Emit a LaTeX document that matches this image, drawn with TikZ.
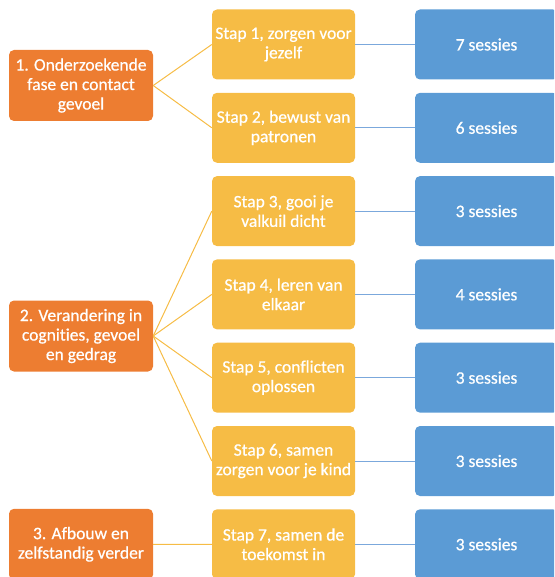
\documentclass[tikz,border=0pt]{standalone}
\usepackage{fontspec}
\setmainfont{Carlito}[Ligatures = NoCommon]
\newfontfamily\boxfont{Carlito}[Ligatures = NoCommon, FakeBold = 0.6]
\usepackage{tikz}
\usetikzlibrary{calc}

\definecolor{fase}{HTML}{ED7D31}
\definecolor{stap}{HTML}{F6BC45}
\definecolor{sessie}{HTML}{5B9BD5}
\definecolor{sessielijn}{HTML}{7BA8DC}

\begin{document}
\begin{tikzpicture}
[x = 1pt, y = -1pt]
\tikzset{
	box/.style = {rounded corners = 5pt, minimum width = 143pt, minimum height = 70pt, align = center, inner sep = 0pt, text = white, font = \boxfont\fontsize{17.5}{19.5}\selectfont},
	fase node/.style = {box, fill = fase, minimum width = 144pt, minimum height = 71pt},
	stap node/.style = {box, fill = stap},
	sessie node/.style = {box, fill = sessie},
	stap line/.style = {draw = stap, line width = 1pt},
	sessie line/.style = {draw = sessielijn, line width = 1pt},
}
\clip (0,0) rectangle (554,577);

% fasen
\node(f1)[fase node] at (81,85.5) {1. Onderzoekende\\fase en contact\\gevoel};
\node(f2)[fase node] at (81,336) {2. Verandering in\\cognities, gevoel\\en gedrag};
\node(f3)[fase node] at (81,544.3) {3. Afbouw en\\zelfstandig verder};

% stappen en sessies
\foreach \i/\txt/\n in {
	1/{Stap 1, zorgen voor\\jezelf}/7,
	2/{Stap 2, bewust van\\patronen}/6,
	3/{Stap 3, gooi je\\valkuil dicht}/3,
	4/{Stap 4, leren van\\elkaar}/4,
	5/{Stap 5, conflicten\\oplossen}/3,
	6/{Stap 6, samen\\zorgen voor je kind}/3,
	7/{Stap 7, samen de\\toekomst in}/3}
{
	\node(s\i)[stap node] at (283.5,{44.5+83.3*(\i-1)}) {\txt};
	\node(n\i)[sessie node] at (486.5,{44.5+83.3*(\i-1)}) {\n{} sessies};
	\draw [sessie line] (s\i.east) -- (n\i.west);
}

\foreach \i in {1,2}
	\draw [stap line] (f1.east) -- (s\i.west);
\foreach \i in {3,...,6}
	\draw [stap line] (f2.east) -- (s\i.west);
\draw [stap line] (f3.east) -- (s7.west);

\end{tikzpicture}
\end{document}
